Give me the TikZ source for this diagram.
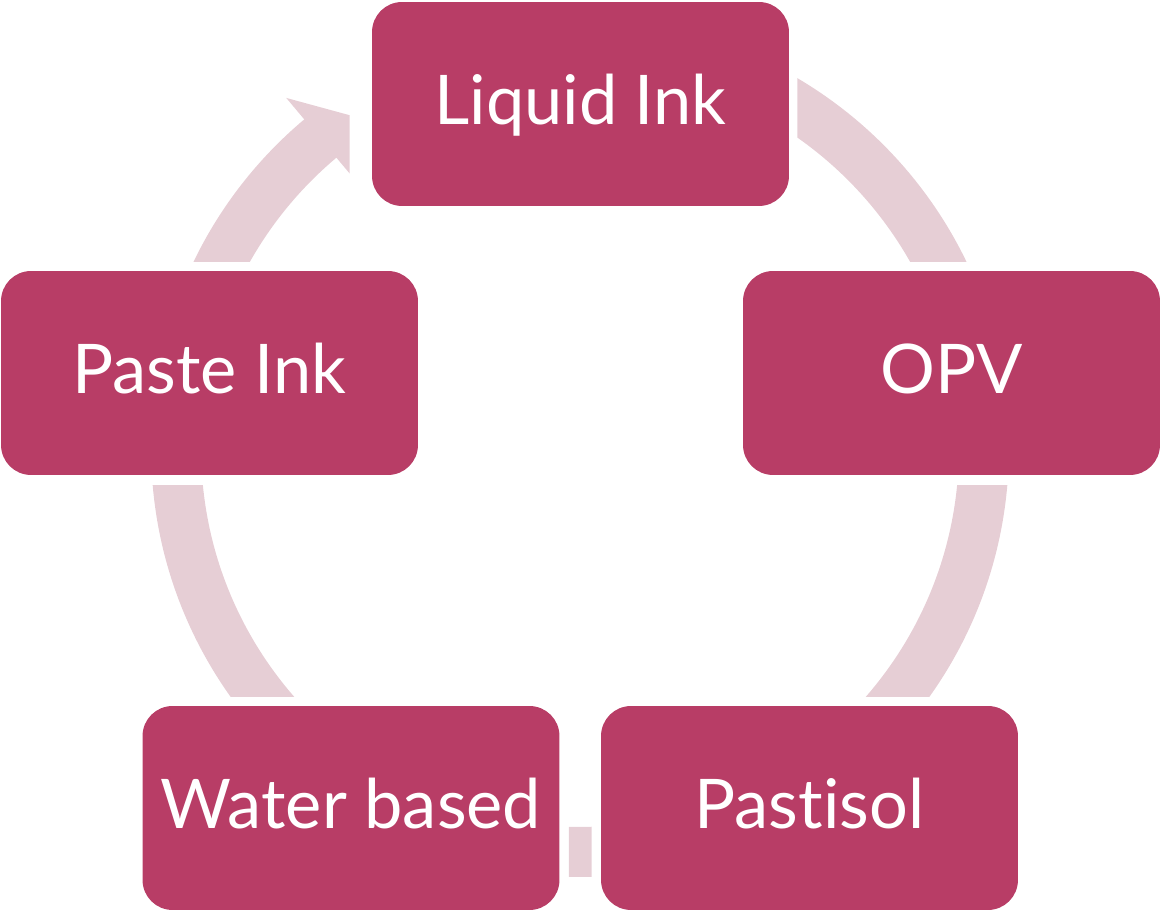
\documentclass[tikz,border=0pt]{standalone}
\usepackage{fontspec}
\setmainfont{Lato}[Ligatures=NoCommon]
\usetikzlibrary{calc}
\definecolor{inkbox}{RGB}{184,61,102}
\definecolor{inkring}{RGB}{230,206,213}
\tikzset{
  inkstep/.style={fill=inkbox, rounded corners=0.6cm, minimum width=8.34cm,
    minimum height=4.08cm, inner sep=0pt, text=white,
    font=\fontsize{39}{47}\selectfont, text height=0.84cm, text depth=0pt},
  cyclearc/.style={draw=inkring, line width=1cm}
}
\begin{document}
\begin{tikzpicture}[x=0.02cm,y=0.02cm]
  \useasboundingbox (0,0) rectangle (1161,-911);
  \coordinate (c) at (580,-448);
  % ink types
  \node[inkstep] (liquid)   at (580.5,-104) {Liquid Ink};
  \node[inkstep] (opv)      at (951.5,-373) {OPV};
  \node[inkstep] (pastisol) at (809.5,-808) {Pastisol};
  \node[inkstep] (water)    at (351,-808)   {Water based};
  \node[inkstep] (paste)    at (209.5,-373) {Paste Ink};
  % liquid -> opv
  \begin{scope}
    \clip ($(liquid.north east)+(8,0)$) rectangle ($(opv.north east)+(0,9)$);
    \draw[cyclearc] (c) circle[radius=8.08cm];
  \end{scope}
  % opv -> pastisol
  \begin{scope}
    \clip ($(opv.south east)+(0,-10)$) rectangle ($(pastisol.north)+(0,9)$);
    \draw[cyclearc] (c) circle[radius=8.08cm];
  \end{scope}
  % pastisol -> water
  \begin{scope}
    \clip ($(water.south east)+(9,0)$) rectangle ($(pastisol.north west)+(-9,0)$);
    \draw[cyclearc] (c) circle[radius=8.08cm];
  \end{scope}
  % water -> paste
  \begin{scope}
    \clip ($(paste.south west)+(0,-10)$) rectangle ($(water.north)+(0,9)$);
    \draw[cyclearc] (c) circle[radius=8.08cm];
  \end{scope}
  % paste -> liquid, with head
  \begin{scope}
    \clip ($(paste.north west)+(0,9)$) rectangle ($(liquid.north west)+(-22,0)$);
    \draw[cyclearc] ($(c)+(165:404)$) arc[start angle=165, end angle=129.5, radius=8.08cm];
    \fill[inkring] ($(c)+(130:457)$) -- ($(c)+(124.6:404)$) -- ($(c)+(130:352)$) -- cycle;
  \end{scope}
\end{tikzpicture}
\end{document}
